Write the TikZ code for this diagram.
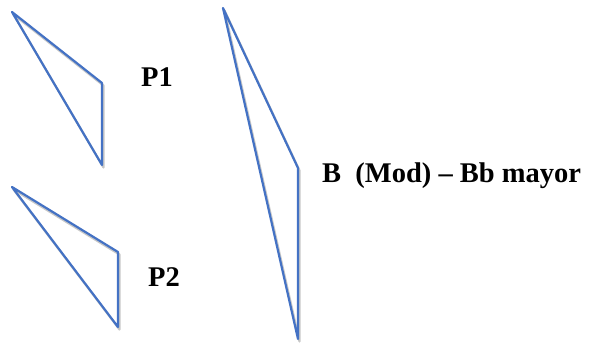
\documentclass[tikz,border=0pt]{standalone}
\usepackage{fontspec}
\setmainfont{Liberation Serif}
\definecolor{edgeblue}{RGB}{68,114,196}
\begin{document}
\begin{tikzpicture}[x=1pt,y=-1pt,
  tri/.style={draw=edgeblue,line width=2.2pt,line join=round},
  trishadow/.style={draw=black!22,line width=2.2pt,line join=round},
  lab/.style={font=\fontsize{28.5}{32}\selectfont\bfseries,inner sep=0pt}]
\useasboundingbox (0,0) rectangle (589,343);
\foreach \ax/\ay/\bx/\by/\cy in {12/12/102/83/165,12/187/118/252/327,223/8/298/168/339}
{
  \draw[trishadow,shift={(1.5,2.5)}] (\ax,\ay) -- (\bx,\by) -- (\bx,\cy) -- cycle;
  \draw[tri] (\ax,\ay) -- (\bx,\by) -- (\bx,\cy) -- cycle;
}

\node[lab] (p1) at (157,77) {P1};
\node[lab] (p2) at (164,277) {P2};
\node[lab,anchor=west] (b) at (322,176) {B\ \ (Mod) -- Bb mayor};
\end{tikzpicture}
\end{document}
